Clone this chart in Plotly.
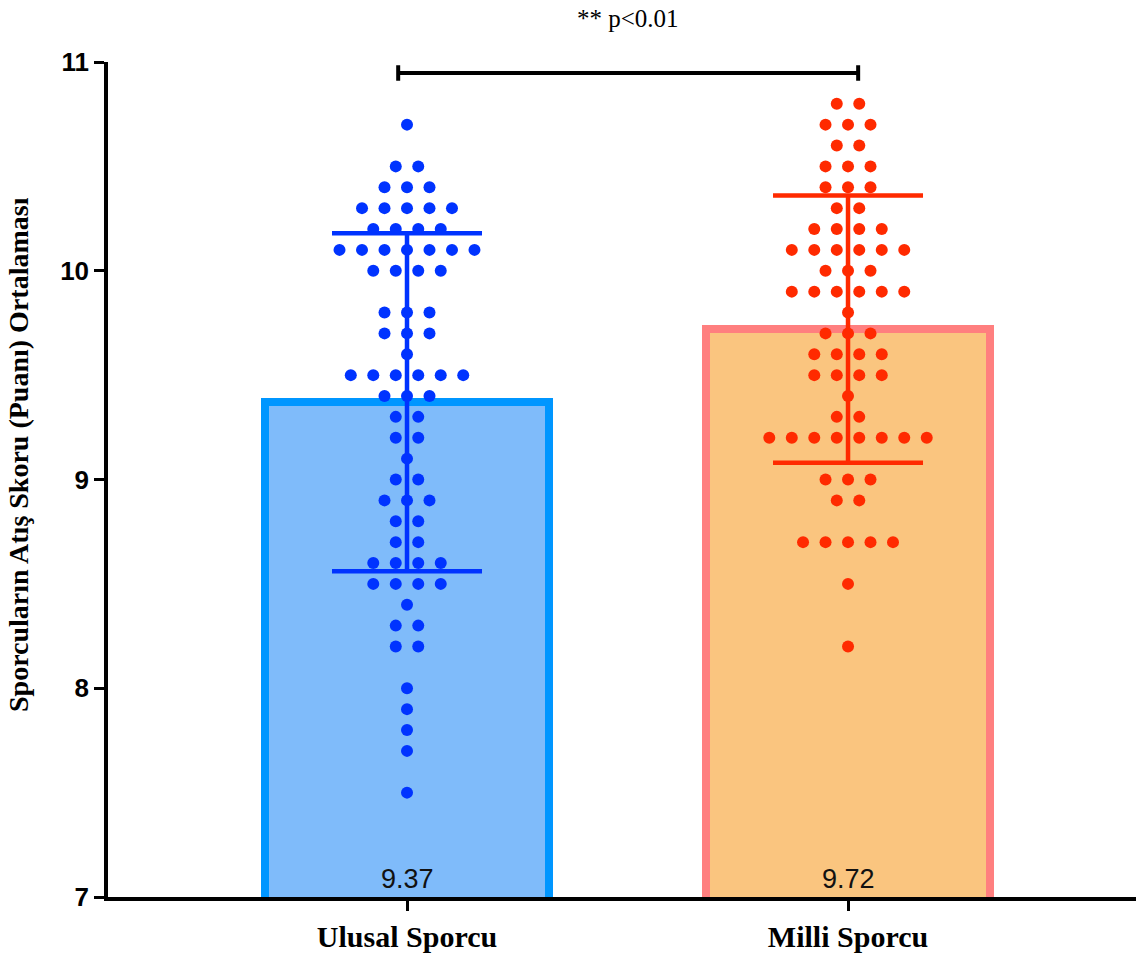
import plotly.graph_objects as go

# Group summary
groups = ["Ulusal Sporcu", "Milli Sporcu"]
means = [9.37, 9.72]
sds = [0.81, 0.64]

# Individual shooting scores: score level and number of athletes at that level
ulusal_scores = [10.7, 10.5, 10.4, 10.3, 10.2, 10.1, 10.0, 9.8, 9.7, 9.6, 9.5, 9.4, 9.3, 9.2, 9.1,
                 9.0, 8.9, 8.8, 8.7, 8.6, 8.5, 8.4, 8.3, 8.2, 8.0, 7.9, 7.8, 7.7, 7.5]
ulusal_counts = [1, 2, 3, 5, 4, 7, 4, 3, 3, 1, 6, 3, 2, 2, 1,
                 2, 3, 2, 2, 4, 4, 1, 2, 2, 1, 1, 1, 1, 1]
milli_scores = [10.8, 10.7, 10.6, 10.5, 10.4, 10.3, 10.2, 10.1, 10.0, 9.9, 9.8, 9.7, 9.6, 9.5,
                9.4, 9.3, 9.2, 9.0, 8.9, 8.7, 8.5, 8.2]
milli_counts = [2, 3, 2, 3, 3, 2, 4, 6, 3, 6, 1, 3, 4, 4,
                1, 2, 8, 3, 2, 5, 1, 1]

p_label = "** p<0.01"

bar_fill = ["#7FBBFA", "#FAC57F"]
bar_edge = ["#0096FF", "#FF7F7F"]
dot_color = ["#0033FF", "#FF2A00"]

DOT_STEP = 0.051  # horizontal spacing between neighbouring dots (x units)


def swarm(center, scores, counts):
    """Spread dots sharing the same score symmetrically around the group centre."""
    xs, ys = [], []
    for s, n in zip(scores, counts):
        for i in range(n):
            xs.append(center + (i - (n - 1) / 2) * DOT_STEP)
            ys.append(s)
    return xs, ys


fig = go.Figure()

# Mean bars
fig.add_trace(go.Bar(
    x=[0, 1], y=means, width=0.644,
    marker=dict(color=bar_fill, line=dict(color=bar_edge, width=8)),
    hoverinfo="skip", showlegend=False,
))

# Individual points
for gi, (sc, ct) in enumerate([(ulusal_scores, ulusal_counts), (milli_scores, milli_counts)]):
    xs, ys = swarm(gi, sc, ct)
    fig.add_trace(go.Scatter(
        x=xs, y=ys, mode="markers",
        marker=dict(size=12, color=dot_color[gi]),
        showlegend=False, cliponaxis=False,
    ))

# Mean ± SD error bars
for gi in range(2):
    fig.add_trace(go.Scatter(
        x=[gi], y=[means[gi]], mode="markers",
        marker=dict(size=1, color="rgba(0,0,0,0)"),
        error_y=dict(type="data", array=[sds[gi]], color=dot_color[gi],
                     thickness=4.5, width=75),
        showlegend=False,
    ))

# Mean value labels at the foot of each bar
for gi in range(2):
    fig.add_annotation(
        x=gi, y=7, xref="x", yref="y", text=f"{means[gi]:.2f}",
        showarrow=False, yanchor="bottom", yshift=1,
        font=dict(family="Liberation Sans, Arial", size=27, color="#111111"),
    )

# Significance bracket
fig.add_shape(type="path", xref="x", yref="y",
              path="M -0.02,10.91 L -0.02,10.985 M -0.02,10.947 L 1.023,10.947 M 1.023,10.91 L 1.023,10.985",
              line=dict(color="black", width=4))
fig.add_annotation(
    x=0.5, y=1.052, xref="x", yref="paper", text=p_label,
    showarrow=False, xanchor="center", yanchor="middle",
    font=dict(family="Liberation Serif, Times New Roman", size=25, color="black"),
)

# Y axis title
fig.add_annotation(
    x=-0.087, y=0.53, xref="paper", yref="paper",
    text="Sporcuların Atış Skoru (Puanı) Ortalaması",
    textangle=-90, showarrow=False, xanchor="center", yanchor="middle",
    font=dict(family="Liberation Serif, Times New Roman", size=28, color="black", weight="bold"),
)

fig.update_layout(
    width=1136, height=958,
    margin=dict(l=108, r=0, t=62, b=61),
    plot_bgcolor="white", paper_bgcolor="white",
    bargap=0,
    xaxis=dict(
        range=[-0.678, 1.653], tickmode="array", tickvals=[0, 1], ticktext=groups,
        showgrid=False, zeroline=False, showline=True, linecolor="black", linewidth=3.5,
        ticks="outside", ticklen=10, tickwidth=3, tickcolor="black",
        tickfont=dict(family="Liberation Serif, Times New Roman", size=30, color="black", weight="bold"),
    ),
    yaxis=dict(
        range=[7, 11], tickmode="array", tickvals=[7, 8, 9, 10, 11],
        showgrid=False, zeroline=False, showline=True, linecolor="black", linewidth=3.5,
        ticks="outside", ticklen=10, tickwidth=3, tickcolor="black",
        tickfont=dict(family="Liberation Sans, Arial", size=26, color="black", weight="bold"),
    ),
)

fig.write_html("out.html")
